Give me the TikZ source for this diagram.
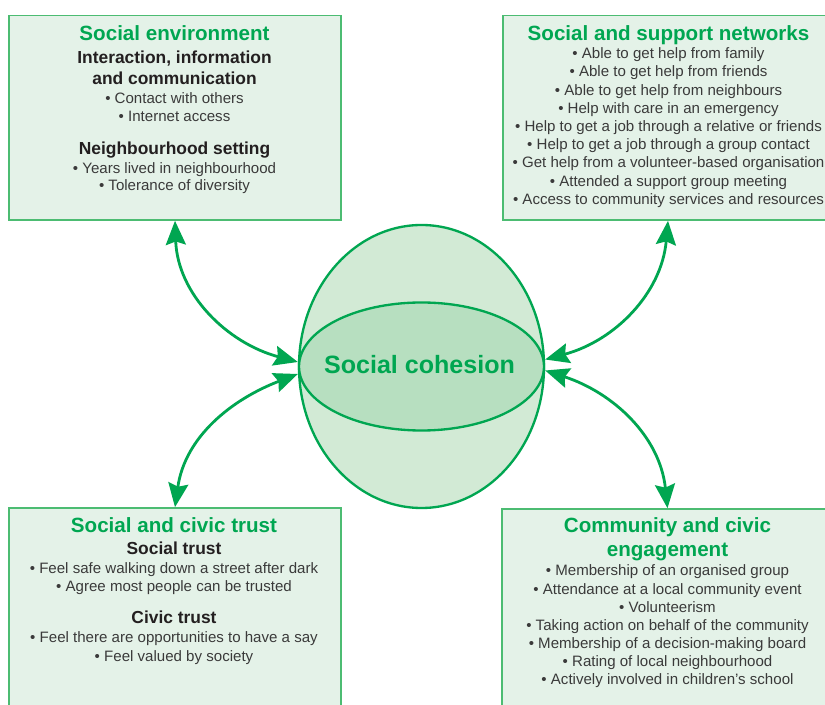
\documentclass[tikz,border=0pt]{standalone}
\usepackage{fontspec}
\setmainfont{Liberation Sans}
\usetikzlibrary{arrows.meta,shapes.geometric,calc}

\definecolor{cgreen}{HTML}{00A651}
\definecolor{boxline}{HTML}{4CBC72}
\definecolor{boxfill}{HTML}{E4F2E8}
\definecolor{outerfill}{HTML}{D2EAD5}
\definecolor{innerfill}{HTML}{B7DFC0}
\definecolor{bodytext}{HTML}{3A3A3A}
\definecolor{headtext}{HTML}{231F20}

\begin{document}
\begin{tikzpicture}[x=0.75pt,y=0.75pt,
  panel/.style={rectangle, draw=boxline, fill=boxfill, line width=1.2pt, inner sep=0pt},
  blob/.style={ellipse, draw=cgreen, line width=1.75pt, inner sep=0pt, minimum width=183.75pt},
  title/.style={anchor=base, inner sep=0pt, text=cgreen, font=\fontsize{15.45}{18}\selectfont\bfseries},
  subhead/.style={anchor=base, inner sep=0pt, text=headtext, font=\fontsize{13.05}{15}\selectfont\bfseries},
  item/.style={anchor=base, inner sep=0pt, text=bodytext, font=\fontsize{11.3}{13.5}\selectfont},
  link/.style={draw=cgreen, line width=2.1pt,
    {Stealth[length=18pt,width=15pt,inset=2.5pt]}-{Stealth[length=18pt,width=15pt,inset=2.5pt]}}
]
\useasboundingbox (0,0) rectangle (825,-705);
\fill[white] (0,0) rectangle (825,-705);
\clip (0,0) rectangle (825,-705);

% the four panels
\node[panel, minimum width=249pt, minimum height=153.4pt] (se) at (175,-117.75) {};
\node[panel, minimum width=247.5pt, minimum height=153.4pt] (sn) at (668,-117.75) {};
\node[panel, minimum width=249pt, minimum height=159pt] (ct) at (175,-614) {};
\node[panel, minimum width=248.25pt, minimum height=158.25pt] (ce) at (667.5,-614.5) {};

% central globe
\node[blob, fill=outerfill, minimum height=212.25pt] (outer) at (421.5,-366.5) {};
\node[blob, fill=innerfill, minimum height=96pt] (core) at (421.5,-366.5) {};
\node[anchor=base, inner sep=0pt, text=cgreen, font=\fontsize{18.8}{22}\selectfont\bfseries]
  (label) at (419.5,-373.3) {Social cohesion};

% arrow ends on the globe
\coordinate (lt) at ($(outer.west)+(0,4.5)$);
\coordinate (lb) at ($(outer.west)+(0,-7.5)$);
\coordinate (rt) at ($(outer.east)+(0,7)$);
\coordinate (rb) at ($(outer.east)+(0,-4)$);

\draw[link] (se.south) to[out=-88, in=165] (lt);
\draw[link] (ct.north) to[out=82, in=201] (lb);
\draw[link] (sn.south) to[out=-95, in=15] (rt);
\draw[link] (ce.north) to[out=96, in=-18] (rb);

% Social environment
\node[title] (se-t) at (174.5,-40.7) {Social environment};
\node[subhead] (se-h1) at (174.5,-63.3) {Interaction, information};
\node[subhead] (se-h2) at (174.5,-85) {and communication};
\node[item] (se-i1) at (174.5,-103.3) {\textbullet\ Contact with others};
\node[item] (se-i2) at (174.5,-122) {\textbullet\ Internet access};
\node[subhead] (se-h3) at (174.5,-154.3) {Neighbourhood setting};
\node[item] (se-i3) at (174.5,-173.3) {\textbullet\ Years lived in neighbourhood};
\node[item] (se-i4) at (174.5,-191) {\textbullet\ Tolerance of diversity};

% Social and support networks
\node[title] (sn-t) at (668.5,-40.7) {Social and support networks};
\foreach \t [count=\i from 0] in {
  Able to get help from family,
  Able to get help from friends,
  Able to get help from neighbours,
  Help with care in an emergency,
  Help to get a job through a relative or friends,
  Help to get a job through a group contact,
  Get help from a volunteer-based organisation,
  Attended a support group meeting,
  Access to community services and resources}
  \node[item] (sn-\i) at (668.5,{-58.7-18.2*\i}) {\textbullet\ \t};

% Social and civic trust
\node[title] (ct-t) at (174,-532.3) {Social and civic trust};
\node[subhead] (ct-h1) at (174,-555) {Social trust};
\node[item] (ct-i1) at (174,-574) {\textbullet\ Feel safe walking down a street after dark};
\node[item] (ct-i2) at (174,-591.7) {\textbullet\ Agree most people can be trusted};
\node[subhead] (ct-h2) at (174,-623.3) {Civic trust};
\node[item] (ct-i3) at (174,-642.7) {\textbullet\ Feel there are opportunities to have a say};
\node[item] (ct-i4) at (174,-661.7) {\textbullet\ Feel valued by society};

% Community and civic engagement
\node[title] (ce-t1) at (667.5,-532.7) {Community and civic};
\node[title] (ce-t2) at (667.5,-556.7) {engagement};
\foreach \t [count=\i from 0] in {
  Membership of an organised group,
  Attendance at a local community event,
  Volunteerism,
  Taking action on behalf of the community,
  Membership of a decision-making board,
  Rating of local neighbourhood,
  Actively involved in children’s school}
  \node[item] (ce-\i) at (667.5,{-576-18.15*\i}) {\textbullet\ \t};
\end{tikzpicture}
\end{document}
